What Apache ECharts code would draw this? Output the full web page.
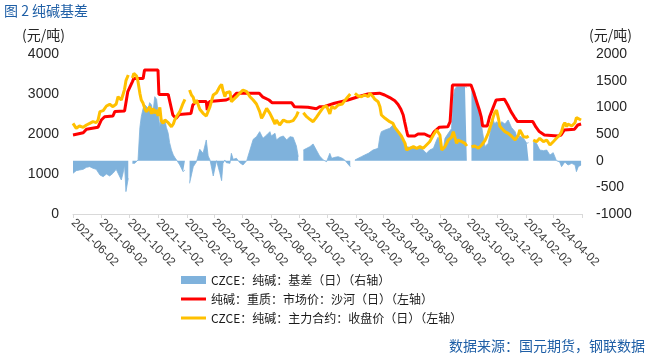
<!DOCTYPE html>
<html><head><meta charset="utf-8">
<script src="https://cdn.jsdelivr.net/npm/echarts@6/dist/echarts.min.js"></script>
<style>html,body{margin:0;padding:0;background:#fff}#c{width:650px;height:359px}</style>
</head><body><div id="c"></div>
<script>
// ---- data ----
const titleText = '图 2 纯碱基差';
const sourceText = '数据来源：国元期货，钢联数据';
const unitText = '(元/吨)';
const seriesNames = ['CZCE：纯碱：基差（日）（右轴）', '纯碱：重质：市场价：沙河（日）（左轴）', 'CZCE：纯碱：主力合约：收盘价（日）（左轴）'];

const xTickDates = ['2021-06-02','2021-08-02','2021-10-02','2021-12-02','2022-02-02','2022-04-02','2022-06-02','2022-08-02','2022-10-02','2022-12-02','2023-02-02','2023-04-02','2023-06-02','2023-08-02','2023-10-02','2023-12-02','2024-02-02','2024-04-02'];
const xAxisEnd = '2024-06-02';

const spotDates = ['2021-06-02','2021-06-24','2021-07-01','2021-07-26','2021-08-02','2021-08-09','2021-08-27','2021-08-31','2021-09-21','2021-09-28','2021-10-08','2021-10-11','2021-10-31','2021-11-03','2021-12-02','2021-12-04','2021-12-24','2022-01-03','2022-01-10','2022-01-17','2022-02-11','2022-02-15','2022-02-22','2022-03-16','2022-03-18','2022-03-23','2022-04-28','2022-05-13','2022-05-20','2022-07-08','2022-07-15','2022-07-29','2022-08-05','2022-09-16','2022-09-22','2022-10-21','2022-10-25','2022-11-08','2022-11-15','2022-11-26','2022-12-17','2022-12-31','2023-01-15','2023-02-06','2023-02-27','2023-03-24','2023-04-04','2023-04-15','2023-04-26','2023-05-03','2023-05-09','2023-05-14','2023-05-17','2023-05-21','2023-05-24','2023-06-08','2023-06-15','2023-06-29','2023-07-06','2023-07-13','2023-07-20','2023-07-31','2023-08-18','2023-08-23','2023-08-28','2023-10-07','2023-10-11','2023-10-18','2023-10-25','2023-10-29','2023-11-01','2023-11-11','2023-11-16','2023-11-23','2023-11-30','2023-12-18','2023-12-25','2024-01-01','2024-01-08','2024-01-15','2024-02-17','2024-02-24','2024-03-02','2024-03-13','2024-04-11','2024-04-18','2024-04-25','2024-05-17','2024-05-24','2024-05-31'];
const spotPrice = [1975,2030,2120,2170,2350,2430,2450,2560,2575,3060,3310,3390,3390,3600,3600,2990,2990,2475,2390,2490,2515,2725,2810,2810,2600,2810,2850,2930,3020,3020,2930,2850,2780,2780,2680,2670,2630,2630,2680,2690,2770,2810,2850,2930,3000,3020,2975,2910,2830,2740,2620,2475,2310,2100,1950,1950,2000,2000,1960,1930,2060,2170,2180,2310,3225,3225,3100,2850,2600,2430,2200,2200,2430,2640,2850,2870,2725,2560,2430,2310,2310,2170,2060,1975,1950,1975,2100,2120,2225,2250];

const tradeDates = [
'2021-06-02','2021-06-09','2021-06-16','2021-06-24','2021-07-01','2021-07-08','2021-07-15','2021-07-22','2021-07-26','2021-07-30',
'2021-08-06','2021-08-13','2021-08-20','2021-08-27','2021-09-03','2021-09-07','2021-09-14','2021-09-18','2021-09-21','2021-09-24',
'2021-09-29','2021-10-04','2021-10-08','2021-10-11','2021-10-13','2021-10-17','2021-10-20','2021-10-24','2021-10-27','2021-10-31',
'2021-11-04','2021-11-07','2021-11-11','2021-11-14','2021-11-18','2021-11-21','2021-11-25','2021-11-29','2021-12-02','2021-12-06',
'2021-12-09','2021-12-13','2021-12-17','2021-12-20','2021-12-24','2021-12-27','2021-12-31','2022-01-04','2022-01-07','2022-01-11',
'2022-01-18','2022-01-25','2022-01-29','2022-02-03','2022-02-08','2022-02-12','2022-02-16','2022-02-19','2022-02-23','2022-03-02',
'2022-03-09','2022-03-16','2022-03-20','2022-03-24','2022-03-31','2022-04-07','2022-04-14','2022-04-18','2022-04-21','2022-04-25',
'2022-04-28','2022-05-06','2022-05-09','2022-05-13','2022-05-20','2022-05-27','2022-06-03','2022-06-11','2022-06-18','2022-06-25',
'2022-07-02','2022-07-09','2022-07-13','2022-07-16','2022-07-24','2022-07-31','2022-08-03','2022-08-07','2022-08-11','2022-08-14',
'2022-08-21','2022-08-29','2022-09-05','2022-09-12','2022-09-19','2022-09-26','2022-09-30','2022-10-04','2022-10-11','2022-10-18',
'2022-10-25','2022-11-01','2022-11-08','2022-11-15','2022-11-23','2022-11-30','2022-12-07','2022-12-11','2022-12-18','2022-12-25',
'2023-01-03','2023-01-08','2023-01-15','2023-01-20','2023-01-24','2023-01-30','2023-02-06','2023-02-13','2023-02-20','2023-02-28',
'2023-03-03','2023-03-10','2023-03-14','2023-03-21','2023-03-25','2023-03-28','2023-04-05','2023-04-15','2023-04-19','2023-04-22',
'2023-04-26','2023-05-03','2023-05-10','2023-05-18','2023-05-21','2023-05-28','2023-06-05','2023-06-12','2023-06-19','2023-06-26',
'2023-07-03','2023-07-10','2023-07-18','2023-07-25','2023-07-28','2023-08-01','2023-08-05','2023-08-08','2023-08-12','2023-08-19',
'2023-08-26','2023-08-30','2023-09-02','2023-09-06','2023-09-09','2023-09-13','2023-09-17','2023-09-24','2023-09-28','2023-10-03',
'2023-10-08','2023-10-15','2023-10-23','2023-10-30','2023-11-06','2023-11-13','2023-11-20','2023-11-24','2023-11-27','2023-12-01',
'2023-12-05','2023-12-08','2023-12-12','2023-12-19','2023-12-26','2024-01-02','2024-01-10','2024-01-13','2024-01-17','2024-01-20',
'2024-01-24','2024-01-28','2024-01-31','2024-02-04','2024-02-08','2024-02-13','2024-02-18','2024-02-25','2024-03-03','2024-03-11',
'2024-03-18','2024-03-25','2024-04-01','2024-04-08','2024-04-15','2024-04-19','2024-04-23','2024-04-26','2024-04-30','2024-05-03',
'2024-05-11','2024-05-18','2024-05-21','2024-05-25','2024-05-31'];

const futuresClose = [
2267,2142,2200,2167,2225,2267,2308,2283,2350,2558,
2583,2700,2742,2683,2750,2933,2850,2999,3117,3333,
3475,null,3400,3517,3533,3450,3308,3017,2850,2767,
2617,2558,2617,2683,2500,2642,2517,2600,2450,2667,
2333,2267,2350,2308,2283,2308,2183,2250,2350,2433,
2558,2767,2867,null,3100,2975,2917,2767,2850,2617,
2517,2450,2475,2683,2975,3033,3183,3242,3083,2933,
3033,3058,2808,2767,2933,3017,3100,3058,2933,2850,
2750,2558,2392,2450,2642,2517,2475,2350,2250,2350,
2225,2350,2308,2308,2333,2450,2558,null,2533,2433,
2367,2308,2417,2533,2667,2700,2500,2683,2642,2725,
2750,2833,2933,3000,null,3017,2950,2933,2975,2933,
3017,2933,2867,2808,2683,2475,2392,2308,2350,2267,
2167,2058,1950,1767,1600,1642,1683,1642,1683,1642,
1725,1808,1975,2100,2142,1975,1600,1558,1683,1850,
1917,2058,1933,1767,1850,1892,1808,1767,1700,null,
1683,1700,1642,1725,1833,2017,2267,2433,2533,2600,
2392,2200,2142,2058,2017,1950,1850,1808,1975,2100,
2017,1933,1917,1917,1950,null,1850,1808,1892,1808,
1850,1725,1808,1892,1975,2058,2225,2283,2183,2250,
2200,2283,2408,2417,2350];

const basis = [
-237,-187,-175,-162,-125,-112,-143,-162,-187,-268,
-300,-250,-287,-237,-162,-175,-362,-225,-81,-580,
-331,null,-50,-18,-50,-81,13,625,825,981,
1044,1075,981,1088,1044,888,1200,1150,919,638,
825,669,763,625,513,338,200,106,63,13,
-81,-206,-175,null,-425,-268,-112,-81,-18,213,
138,388,88,13,-287,0,-225,-375,-50,13,
-37,-50,138,25,44,-37,-81,0,200,400,
450,544,575,419,481,544,463,450,513,388,
438,463,388,450,438,275,75,null,200,231,
263,313,200,88,13,-18,138,44,63,75,
44,13,-62,-112,null,13,44,75,106,138,
169,200,231,231,463,544,575,607,638,669,
688,513,419,325,263,250,263,213,250,200,
138,200,231,388,438,356,263,200,419,513,
600,1200,1338,1388,1400,1388,1400,1388,1375,null,
1356,1294,950,638,263,325,638,763,688,731,
763,669,731,688,763,625,544,463,419,463,
481,419,388,325,338,null,356,325,200,188,
200,106,150,0,-25,-112,-81,-25,-50,-81,
-50,-81,-206,-112,-81];

// ---- helpers ----
function toTime(s){const p=s.split('-').map(Number);return new Date(p[0],p[1]-1,p[2]).getTime();}
function pad(n){return n<10?'0'+n:''+n;}
function fmtDate(v){const d=new Date(v);return d.getFullYear()+'-'+pad(d.getMonth()+1)+'-'+pad(d.getDate());}
function pairs(dates, vals){return dates.map((d,i)=>[toTime(d), vals[i]]);}

const labelTicks = xTickDates.map(toTime);
const tickMarks = xTickDates.concat([xAxisEnd]).map(toTime);

const latin = "'Liberation Sans', 'Noto Sans CJK SC', sans-serif";
const cjk = "'Noto Sans CJK SC', 'Liberation Sans', sans-serif";

const option = {
  animation: false,
  backgroundColor: '#fff',
  title: {
    text: titleText, left: 4, top: 4, padding: 0,
    textStyle: {fontSize: 14, fontWeight: 'normal', color: '#1f5fa6', fontFamily: cjk}
  },
  graphic: [
    {type: 'text', left: 22, top: 28, style: {text: unitText, font: "14px " + cjk, fill: '#262626'}},
    {type: 'text', left: 589, top: 28, style: {text: unitText, font: "14px " + cjk, fill: '#262626'}},
    {type: 'text', right: 5, top: 339, style: {text: sourceText, font: "14px " + cjk, fill: '#1f5fa6'}}
  ],
  grid: {left: 73, right: 68, top: 54, bottom: 145, containLabel: false, outerBoundsMode: 'none'},
  legend: {
    orient: 'vertical', left: 176, top: 269, itemWidth: 25, itemHeight: 8, itemGap: 7,
    textStyle: {fontSize: 12, color: '#1a1a1a', fontFamily: cjk},
    data: [
      {name: seriesNames[0], icon: 'rect'},
      {name: seriesNames[1], icon: 'path://M0,0M25,8M0,2.5L25,2.5L25,5.5L0,5.5Z'},
      {name: seriesNames[2], icon: 'path://M0,0M25,8M0,2.5L25,2.5L25,5.5L0,5.5Z'}
    ]
  },
  xAxis: {
    type: 'value', min: toTime(xTickDates[0]), max: toTime(xAxisEnd), scale: true,
    axisLine: {onZero: false, lineStyle: {color: '#d9d9d9', width: 1}},
    axisTick: {show: true, length: 4, customValues: tickMarks, lineStyle: {color: '#d9d9d9'}},
    axisLabel: {
      customValues: labelTicks, rotate: -45, interval: 0, hideOverlap: false,
      fontSize: 12, color: '#404040', fontFamily: latin, margin: 7,
      formatter: function(v){return fmtDate(v);}
    },
    splitLine: {show: false}
  },
  yAxis: [
    {type: 'value', min: 0, max: 4000, interval: 1000,
     axisLine: {show: false}, axisTick: {show: false}, splitLine: {show: false},
     axisLabel: {fontSize: 14, color: '#262626', fontFamily: latin, margin: 14, formatter: function(v){return String(v);}}},
    {type: 'value', min: -1000, max: 2000, interval: 500,
     axisLine: {show: false}, axisTick: {show: false}, splitLine: {show: false},
     axisLabel: {fontSize: 14, color: '#262626', fontFamily: latin, margin: 14, formatter: function(v){return String(v);}}}
  ],
  series: [
    {name: seriesNames[0], type: 'line', yAxisIndex: 1, data: pairs(tradeDates, basis),
     symbol: 'none', showSymbol: false, connectNulls: false, color: '#7fb2dc',
     lineStyle: {width: 0.8, color: '#7fb2dc'}, areaStyle: {color: '#7fb2dc', opacity: 1}, z: 1},
    {name: seriesNames[1], type: 'line', yAxisIndex: 0, data: pairs(spotDates, spotPrice),
     symbol: 'none', showSymbol: false, color: '#ff0000', lineStyle: {width: 3, color: '#ff0000'}, z: 3},
    {name: seriesNames[2], type: 'line', yAxisIndex: 0, data: pairs(tradeDates, futuresClose),
     symbol: 'none', showSymbol: false, connectNulls: false, color: '#ffc000', lineStyle: {width: 3, color: '#ffc000'}, z: 4}
  ]
};

const chart = echarts.init(document.getElementById('c'), null, {renderer: 'canvas'});
chart.setOption(option);
</script></body></html>
